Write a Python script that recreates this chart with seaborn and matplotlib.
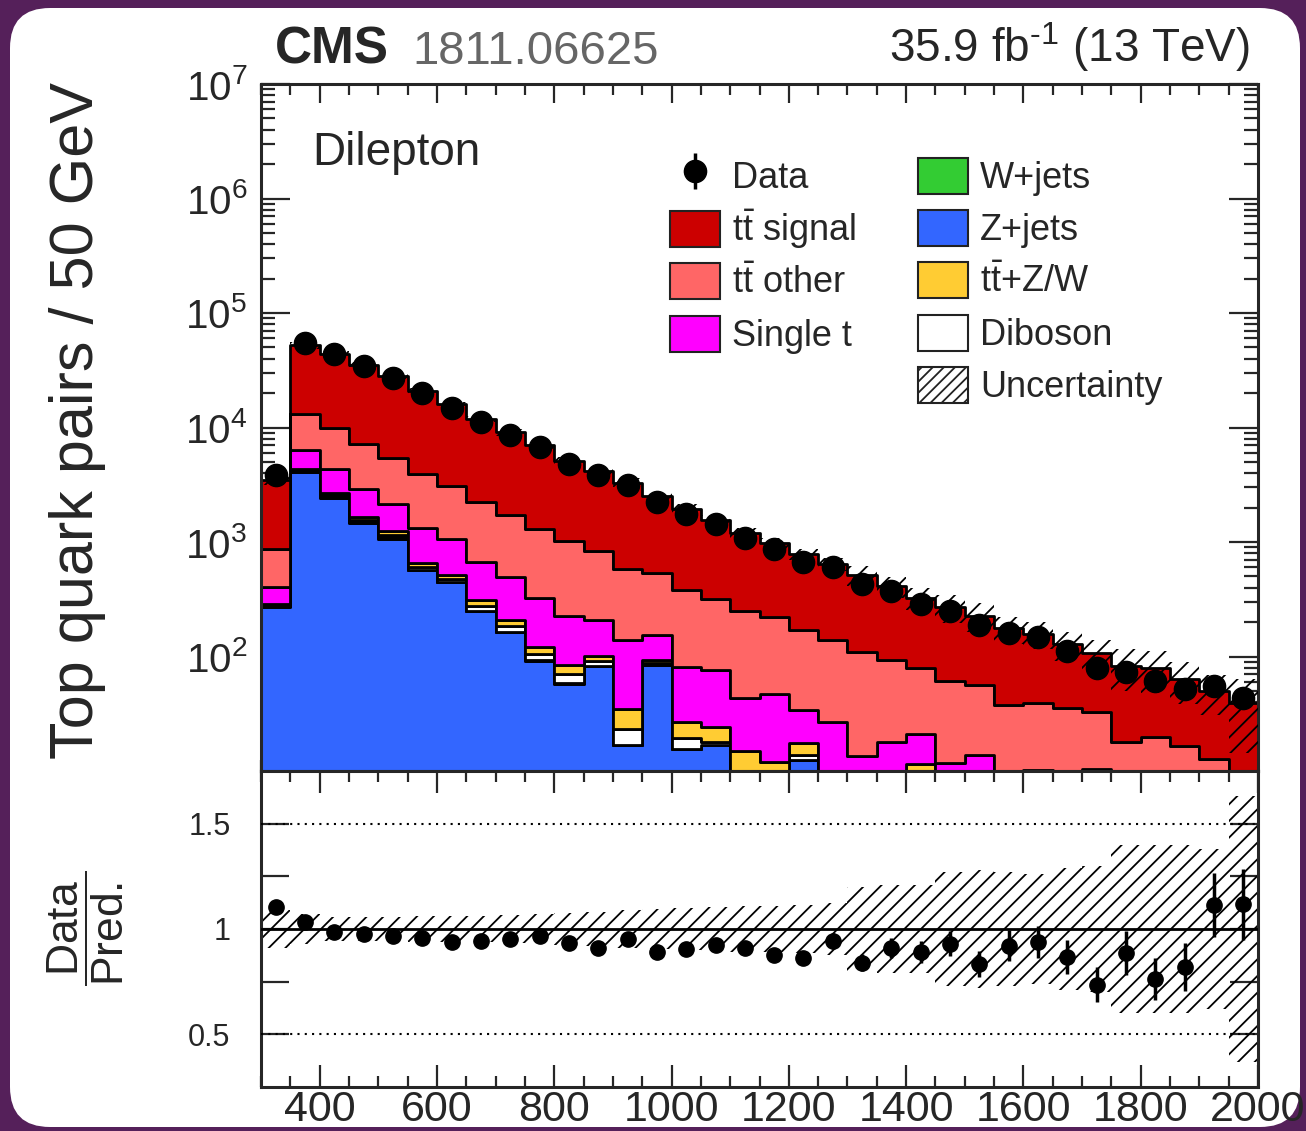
import numpy as np
import pandas as pd
import matplotlib
matplotlib.use("Agg")
import matplotlib.pyplot as plt
import matplotlib.transforms as mtransforms
from matplotlib.patches import Patch, FancyBboxPatch, Rectangle
from matplotlib.legend_handler import HandlerPatch
from matplotlib.ticker import (MultipleLocator, LogLocator, NullFormatter, FixedLocator,
                               FixedFormatter, LogFormatterSciNotation)
import seaborn as sns

# ---------------- data ----------------
bin_edges = list(range(300, 2001, 50))  # 34 bins of 50 GeV

z_jets = [272, 4100, 2430, 1470, 1054, 567, 443, 248, 163, 92, 58, 82, 16.8, 85, 15.5, 16.8,
          2, 3, 12.4, 0, 0, 0, 5, 0, 0, 0, 0, 0, 0, 0, 0, 0, 0, 0]
w_jets = [3, 30, 20, 15, 50, 5, 5, 3, 2, 2, 1, 0, 0, 0, 0, 0,
          0, 0, 0, 0, 0, 0, 0, 0, 0, 0, 0, 0, 0, 0, 0, 0, 0, 0]
diboson = [6, 80, 100, 80, 50, 35, 30, 25, 20, 12, 11, 9, 6.7, 2, 4.1, 1.2,
           1, 2, 1.4, 0, 0, 0, 2, 0, 0, 0, 0, 0, 0, 0, 0, 0, 0, 0]
ttzw = [6, 120, 140, 80, 90, 50, 38, 35, 23, 16, 15, 11, 11.1, 6.5, 7.2, 6.3,
        12, 7, 3.6, 0, 0, 0, 4.5, 0, 0, 0, 0, 0, 0, 0, 0, 0, 0, 0]
single_t = [114, 2020, 1640, 1255, 906, 676, 552, 359, 282, 202, 143, 106, 103.4, 61.5, 53.9, 52.3,
            28.7, 35.4, 17, 26.8, 13.5, 18, 9.5, 11.7, 13.8, 0, 10.3, 0, 10.4, 0, 0, 0, 0, 0]
tt_other = [474, 6710, 5530, 4260, 3260, 2622, 2002, 1557, 1216, 966, 793, 627, 448, 386, 299, 244,
            204, 173, 136, 113, 95.5, 75.5, 58.5, 49, 43, 37.9, 29.1, 35.4, 22.6, 18, 19.7, 16.6, 12.8, 8]
tt_signal = [2575, 39340, 34400, 28240, 22690, 16885, 12830, 9573, 7354, 5680, 4109, 3365, 2714, 1979,
             1570, 1239, 952, 760, 610, 500, 406, 316.5, 245.5, 209.3, 171.2, 138.1, 118.6, 92.6, 75,
             65, 60.3, 47.4, 37.2, 31]

data = [3810, 54200, 43700, 34600, 27100, 19950, 14900, 11100, 8620, 6750, 4800, 3820, 3145, 2243,
        1761, 1443, 1092, 861, 673, 603, 433, 373, 289, 251, 190, 162, 148, 111, 79.5, 73.6, 61,
        52.4, 55.7, 43.6]
data_err = [62, 233, 209, 186, 165, 141, 122, 105, 93, 82, 69, 62, 56, 47, 42, 38, 33, 29, 26, 25,
            21, 19, 17, 16, 14, 13, 12, 10.5, 9, 8.6, 7.8, 7.2, 7.5, 6.6]
rel_unc = [0.09, 0.07, 0.055, 0.055, 0.055, 0.06, 0.06, 0.06, 0.065, 0.07, 0.075, 0.08, 0.09, 0.095,
           0.10, 0.105, 0.11, 0.11, 0.115, 0.125, 0.20, 0.21, 0.21, 0.27, 0.28, 0.27, 0.26, 0.29,
           0.30, 0.40, 0.40, 0.40, 0.38, 0.63]

process_names = ["tt_signal", "tt_other", "single_t", "ttzw", "diboson", "wjets", "zjets"]
process_values = [tt_signal, tt_other, single_t, ttzw, diboson, w_jets, z_jets]
process_colors = {"tt_signal": "#cc0000", "tt_other": "#ff6666", "single_t": "#ff00ff",
                  "ttzw": "#ffcc33", "diboson": "#ffffff", "wjets": "#33cc33", "zjets": "#3366ff"}

# ---------------- style ----------------
sns.set_style("ticks")
plt.rcParams.update({
    "font.family": ["Liberation Sans", "DejaVu Sans"],
    "mathtext.fontset": "custom",
    "mathtext.rm": "Liberation Sans",
    "mathtext.it": "Liberation Sans:italic",
    "mathtext.bf": "Liberation Sans:bold",
    "mathtext.default": "regular",
    "hatch.linewidth": 1.3,
    "hatch.color": "black",
    "axes.linewidth": 2.2,
})

W, H = 1306, 1131
fig = plt.figure(figsize=(W / 100, H / 100), dpi=100)
fig.patch.set_facecolor("#55205a")
card = FancyBboxPatch((10, 4), 1290, 1119, boxstyle="round,pad=0,rounding_size=40",
                      transform=mtransforms.IdentityTransform(), facecolor="white",
                      edgecolor="none", zorder=-10)
fig.add_artist(card)

ax = fig.add_axes([261 / W, 1 - 771 / H, 997 / W, 687 / H])
rax = fig.add_axes([261 / W, 1 - 1087 / H, 997 / W, 316 / H], sharex=ax)

edges = np.array(bin_edges, dtype=float)
centers = 0.5 * (edges[:-1] + edges[1:])

rows = []
for name, vals in zip(process_names, process_values):
    for c, v in zip(centers, vals):
        rows.append({"mass": float(c), "weight": float(v), "process": name})
df = pd.DataFrame(rows)

ax.set_yscale("log")
sns.histplot(data=df, x="mass", weights="weight", hue="process", hue_order=process_names,
             multiple="stack", bins=bin_edges, element="step", palette=process_colors, alpha=1,
             edgecolor="black", linewidth=2, legend=False, ax=ax)

total = np.sum(np.array(process_values, dtype=float), axis=0)
t_ext = np.append(total, total[-1])
u = np.array(rel_unc)
u_ext = np.append(u, u[-1])
ax.fill_between(edges, t_ext * (1 - u_ext), t_ext * (1 + u_ext), step="post",
                facecolor="none", edgecolor="black", hatch="//", linewidth=0, zorder=4)

dcont = ax.errorbar(centers, data, yerr=data_err, fmt="o", color="black", ms=16,
                    elinewidth=2.5, capsize=0, zorder=6)

ax.set_xlim(300, 2000)
ax.set_ylim(10, 1e7)
ax.set_xlabel("")
ax.set_ylabel("")

# ratio
data_a = np.array(data)
ratio = data_a / total
rerr = np.array(data_err) / total
rax.fill_between(edges, 1 - u_ext, 1 + u_ext, step="post", facecolor="none", edgecolor="black",
                 hatch="//", linewidth=0, zorder=2)
rax.axhline(1.0, color="black", lw=2, zorder=3)
rax.axhline(1.5, color="black", lw=1.5, ls=(0, (1, 2.5)), zorder=3)
rax.axhline(0.5, color="black", lw=1.5, ls=(0, (1, 2.5)), zorder=3)
rax.errorbar(centers, ratio, yerr=rerr, fmt="o", color="black", ms=11, elinewidth=2.5,
             capsize=0, zorder=5)
rax.set_ylim(0.25, 1.75)
rax.set_xlim(300, 2000)
rax.set_ylabel("")
rax.set_xlabel("")

# ticks
ax.yaxis.set_major_locator(FixedLocator([1e2, 1e3, 1e4, 1e5, 1e6, 1e7]))
ax.yaxis.set_major_formatter(LogFormatterSciNotation())
ax.yaxis.set_minor_locator(LogLocator(base=10, subs=np.arange(2, 10), numticks=20))
ax.yaxis.set_minor_formatter(NullFormatter())
rax.xaxis.set_major_locator(MultipleLocator(200))
rax.xaxis.set_minor_locator(MultipleLocator(50))
ax.tick_params(which="both", direction="in", top=True, right=True, width=1.6)
ax.tick_params(axis="y", which="major", length=21, labelsize=29, pad=10)
ax.tick_params(axis="y", which="minor", length=10)
ax.tick_params(axis="x", which="major", length=14, labelbottom=False)
ax.tick_params(axis="x", which="minor", length=8)
rax.yaxis.set_major_locator(FixedLocator([0.5, 1.0, 1.5]))
rax.yaxis.set_major_formatter(FixedFormatter(["0.5", "1", "1.5"]))
rax.yaxis.set_minor_locator(FixedLocator([0.75, 1.25]))
rax.tick_params(which="both", direction="in", top=True, right=True, width=1.6)
rax.tick_params(axis="y", which="both", length=20, labelsize=22, pad=22)
rax.tick_params(axis="x", which="major", length=16, labelsize=31, pad=2)
rax.tick_params(axis="x", which="minor", length=8)

# texts
fig.text(275 / W, 1 - 64 / H, "CMS", fontsize=37, fontweight="bold", ha="left", va="baseline")
fig.text(412 / W, 1 - 64 / H, "1811.06625", fontsize=34, color="#666666", ha="left", va="baseline")
fig.text(1250 / W, 1 - 62 / H, r"35.9 fb$^{\text{-}1}$ (13 TeV)", fontsize=33, ha="right",
         va="baseline")
fig.text(312 / W, 1 - 165 / H, "Dilepton", fontsize=33, ha="left", va="baseline")
fig.text(78 / W, 1 - 420 / H, "Top quark pairs / 50 GeV", fontsize=44, rotation=90,
         ha="center", va="center")
fig.text(86 / W, 1 - 928 / H, r"$\dfrac{\mathrm{Data}}{\mathrm{Pred.}}$", fontsize=32,
         rotation=90, ha="center", va="center")

# legend
def box(c, hatch=None):
    return Patch(facecolor=c, edgecolor="#222222", linewidth=1.5, hatch=hatch)


def centered_box(legend, orig_handle, xdescent, ydescent, width, height, fontsize):
    h = fontsize * 1.0
    return Rectangle((-xdescent, -ydescent + (height - h) / 2), width, h)


blank = Patch(facecolor="none", edgecolor="none")
handles = [dcont, box(process_colors["tt_signal"]), box(process_colors["tt_other"]),
           box(process_colors["single_t"]), blank,
           box(process_colors["wjets"]), box(process_colors["zjets"]), box(process_colors["ttzw"]),
           box("white"), box("white", hatch="///")]
labels = ["Data", r"$\mathrm{t\bar{t}}$ signal", r"$\mathrm{t\bar{t}}$ other", "Single t", "",
          "W+jets", "Z+jets", r"$\mathrm{t\bar{t}}$+Z/W", "Diboson", "Uncertainty"]
ax.legend(handles, labels, ncol=2, loc="upper left", bbox_to_anchor=(0.41, 0.8975),
          frameon=False, fontsize=26, handlelength=1.39, handleheight=1.45, labelspacing=0.26,
          columnspacing=1.7, handletextpad=0.34, borderaxespad=0, borderpad=0,
          handler_map={Patch: HandlerPatch(patch_func=centered_box)})

fig.savefig("out.png", dpi=100)
